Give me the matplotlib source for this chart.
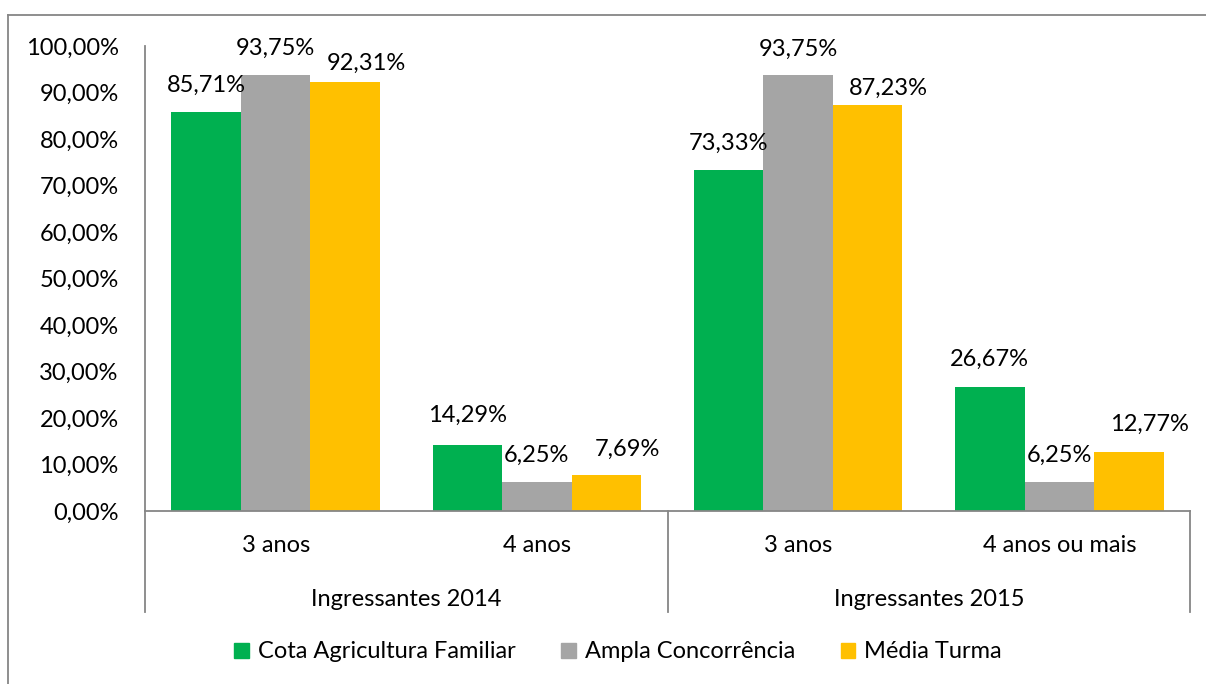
import matplotlib
matplotlib.use('Agg')
from matplotlib import pyplot as plt
from matplotlib.patches import Patch
from matplotlib.lines import Line2D

plt.rcParams['font.family'] = ['Lato', 'DejaVu Sans']

# dados
grupos = ['Ingressantes 2014', 'Ingressantes 2015']
categorias = ['3 anos', '4 anos', '3 anos', '4 anos ou mais']
series = ['Cota Agricultura Familiar', 'Ampla Concorrência', 'Média Turma']
cota = [85.71, 14.29, 73.33, 26.67]
ampla = [93.75, 6.25, 93.75, 6.25]
media = [92.31, 7.69, 87.23, 12.77]
cores = ['#00B050', '#A5A5A5', '#FFC000']

# deslocamento dos rotulos (pixels) - a serie amarela foi puxada pra direita
desl_x = [0, 0, 21]
desl_y = [[27, 29, 27, 28], [27, 27, 26, 27], [18, 26, 17, 27]]

fs = 17
px = 72 / 100  # pixel -> pontos
fig = plt.figure(figsize=(12.06, 6.84), dpi=100)
ax = fig.add_axes([145 / 1206, 1 - 511 / 684, 1045 / 1206, 465 / 684])

w = 69.5 / 261
xs = [i + 0.5 for i in range(len(categorias))]
for k, (vals, cor) in enumerate(zip([cota, ampla, media], cores)):
    pos = [x + (k - 1) * w for x in xs]
    ax.bar(pos, vals, width=w, color=cor, label=series[k])
    for j, (p, v) in enumerate(zip(pos, vals)):
        rot = ('%.2f%%' % v).replace('.', ',')
        ax.annotate(rot, (p, v), xytext=(desl_x[k] * px, desl_y[k][j] * px),
                    textcoords='offset points', ha='center', va='center', fontsize=fs)

ax.set_xlim(0, 4)
ax.set_ylim(0, 100)
ax.set_yticks(range(0, 101, 10))
ax.set_yticklabels([('%.2f%%' % t).replace('.', ',') for t in range(0, 101, 10)], fontsize=fs)
ax.tick_params(axis='y', length=0, pad=19)
ax.set_xticks([])

cinza = '#868686'
for s in ['top', 'right']:
    ax.spines[s].set_visible(False)
for s in ['left', 'bottom']:
    ax.spines[s].set_color(cinza)
    ax.spines[s].set_linewidth(1.3)

# eixo de categorias em dois niveis
trans = ax.get_xaxis_transform()
for x in [0, 2, 4]:
    ax.plot([x, x], [0, -101 / 465], color=cinza, lw=1.3, transform=trans, clip_on=False)
for x, c in zip(xs, categorias):
    ax.text(x, -35 / 465, c, ha='center', va='center', fontsize=fs, transform=trans)
for x, g in zip([1, 3], grupos):
    ax.text(x, -89 / 465, g, ha='center', va='center', fontsize=fs, transform=trans)

handles = [Patch(color=c) for c in cores]
fig.legend(handles, series, loc='center', bbox_to_anchor=(618 / 1206, 1 - 652 / 684),
           ncol=3, frameon=False, fontsize=fs, handlelength=0.6, handleheight=0.6,
           handletextpad=0.38, columnspacing=1.95, borderpad=0)

# borda externa
fig.add_artist(Line2D([8 / 1206, 1], [1 - 15 / 684, 1 - 15 / 684], color=cinza, lw=1.3))
fig.add_artist(Line2D([8 / 1206, 8 / 1206], [0, 1 - 15 / 684], color=cinza, lw=1.3))

fig.savefig('out.png', dpi=100)
